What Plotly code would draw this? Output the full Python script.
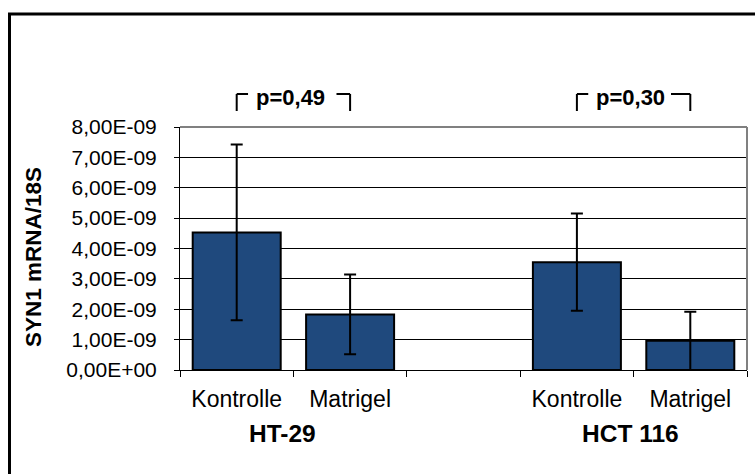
import plotly.graph_objects as go

# Expression data: SYN1 mRNA normalised to 18S, mean and error per condition
cell_lines = ["HT-29", "HCT 116"]
conditions = ["Kontrolle", "Matrigel"]
ht29_mean = [4.53e-9, 1.83e-9]
ht29_err = [2.89e-9, 1.31e-9]
hct116_mean = [3.55e-9, 0.96e-9]
hct116_err = [1.60e-9, 0.96e-9]
p_values = ["p=0,49", "p=0,30"]

y_tick_vals = [0, 1e-9, 2e-9, 3e-9, 4e-9, 5e-9, 6e-9, 7e-9, 8e-9]
y_tick_text = ["0,00E+00", "1,00E-09", "2,00E-09", "3,00E-09", "4,00E-09",
               "5,00E-09", "6,00E-09", "7,00E-09", "8,00E-09"]

# Category keys: one slot per condition and an empty slot between the cell lines
spacer = "spacer"
x_keys = [f"{cell_lines[0]}|{c}" for c in conditions] + [f"{cell_lines[1]}|{c}" for c in conditions]
cat_order = x_keys[:2] + [spacer] + x_keys[2:]
cat_text = conditions + [""] + conditions

means = ht29_mean + hct116_mean
errs = ht29_err + hct116_err

W, H = 755, 474
L, R, T, B = 180, 8, 127, 104
pw, ph = W - L - R, H - T - B


def px(x):
    return (x - L) / pw


def py(y):
    return (H - B - y) / ph


FONT = "Arial, Liberation Sans, sans-serif"
BAR = "#1F497D"

fig = go.Figure()
fig.add_trace(go.Bar(
    x=x_keys, y=means,
    marker=dict(color=BAR, line=dict(color="black", width=2)),
    error_y=dict(type="data", array=errs, visible=True, color="black",
                 thickness=2, width=6),
    hoverinfo="skip",
))

shapes = []
annotations = []

# Significance brackets between the two conditions of each cell line
top, bot = py(94), py(111)
for i, (start, p) in enumerate(zip([0, 3], p_values)):
    left, right = start, start + 1
    stub_r = 0.12 if i == 0 else 0.17
    for path in [
        dict(x0=left, x1=left, y0=bot, y1=top),
        dict(x0=left, x1=left + 0.1, y0=top, y1=top),
        dict(x0=right - stub_r, x1=right, y0=top, y1=top),
        dict(x0=right, x1=right, y0=top, y1=bot),
    ]:
        shapes.append(dict(type="line", xref="x", yref="paper",
                           line=dict(color="black", width=2), **path))
    annotations.append(dict(x=(left + right) / 2 - 0.025, y=py(97.5), xref="x", yref="paper",
                            text=f"<b>{p}</b>", showarrow=False,
                            font=dict(family=FONT, size=22, color="black"),
                            xanchor="center", yanchor="middle"))

# Cell line group labels under the condition labels
for name, xc in zip(cell_lines, [282, 630]):
    annotations.append(dict(x=px(xc), y=py(433), xref="paper", yref="paper",
                            text=f"<b>{name}</b>", showarrow=False,
                            font=dict(family=FONT, size=24.5, color="black"),
                            xanchor="center", yanchor="middle"))

# Y axis title
annotations.append(dict(x=px(33), y=py(257), xref="paper", yref="paper",
                        text="<b>SYN1 mRNA/18S</b>", textangle=-90, showarrow=False,
                        font=dict(family=FONT, size=22.5, color="black"),
                        xanchor="center", yanchor="middle"))

# Grey plot-area border on top and right
shapes.append(dict(type="line", xref="paper", yref="paper", x0=0, x1=1, y0=1, y1=1,
                   line=dict(color="#808080", width=2)))
shapes.append(dict(type="line", xref="paper", yref="paper", x0=1, x1=1, y0=0, y1=1,
                   line=dict(color="#808080", width=2)))

# Outer chart frame
shapes.append(dict(type="rect", xref="paper", yref="paper",
                   x0=px(9.5), x1=px(W + 20), y0=py(H + 20), y1=py(14),
                   line=dict(color="black", width=3), layer="below"))

fig.update_layout(
    width=W, height=H,
    margin=dict(l=L, r=R, t=T, b=B),
    paper_bgcolor="white", plot_bgcolor="white",
    showlegend=False,
    bargap=0.224,
    font=dict(family=FONT, color="black"),
    shapes=shapes, annotations=annotations,
    xaxis=dict(
        type="category", categoryorder="array", categoryarray=cat_order,
        tickmode="array", tickvals=cat_order, ticktext=cat_text,
        range=[-0.5, 4.5], tickson="boundaries",
        ticks="outside", ticklen=6, tickwidth=1, tickcolor="black",
        showline=True, linecolor="black", linewidth=1,
        showgrid=False, zeroline=False,
        tickfont=dict(family=FONT, size=23, color="black"),
        ticklabelstandoff=8,
    ),
    yaxis=dict(
        range=[0, 8e-9], tickmode="array", tickvals=y_tick_vals, ticktext=y_tick_text,
        ticks="outside", ticklen=5, tickwidth=1, tickcolor="black",
        showline=True, linecolor="black", linewidth=1,
        showgrid=True, gridcolor="black", gridwidth=1, zeroline=False,
        tickfont=dict(family=FONT, size=21, color="black"),
        ticklabelstandoff=13,
    ),
)

fig.write_html("out.html")
